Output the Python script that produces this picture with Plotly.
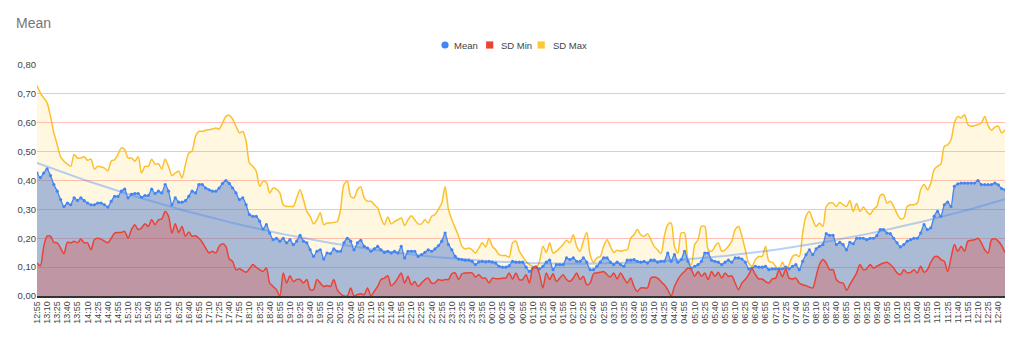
import numpy as np
import plotly.graph_objects as go

# ---- categories: 5-minute timestamps from 12:55 to 12:50 (next day) ----
times = []
h, m = 12, 55
for _ in range(288):
    times.append(f"{h:02d}:{m:02d}")
    m += 5
    if m == 60:
        m = 0
        h = (h + 1) % 24
tick_labels = times[::3]

legend_names = ["Mean", "SD Min", "SD Max"]

mean_vals = [
    0.426, 0.41, 0.426, 0.44, 0.417, 0.386, 0.363, 0.334, 0.31, 0.322,
    0.316, 0.34, 0.331, 0.34, 0.33, 0.322, 0.316, 0.316, 0.322, 0.322,
    0.316, 0.308, 0.328, 0.345, 0.345, 0.363, 0.37, 0.34, 0.352, 0.355,
    0.355, 0.342, 0.348, 0.348, 0.37, 0.355, 0.363, 0.357, 0.386,
    0.363, 0.316, 0.34, 0.325, 0.325, 0.33, 0.345, 0.363, 0.357, 0.386,
    0.386, 0.374, 0.368, 0.363, 0.363, 0.374, 0.39, 0.40, 0.39, 0.374,
    0.357, 0.334, 0.34, 0.316, 0.282, 0.276, 0.276, 0.259, 0.232, 0.247,
    0.218, 0.195, 0.20, 0.19, 0.20,
    0.184, 0.195, 0.178, 0.19, 0.21, 0.19, 0.184, 0.16, 0.137, 0.155,
    0.16, 0.128, 0.149, 0.147, 0.163, 0.155, 0.155, 0.184, 0.20, 0.19,
    0.16, 0.184, 0.193, 0.172, 0.166, 0.155, 0.163, 0.172, 0.16, 0.151,
    0.155, 0.149, 0.155, 0.149, 0.172, 0.132, 0.155, 0.155, 0.155, 0.137,
    0.143, 0.151, 0.16, 0.155, 0.163, 0.174, 0.19, 0.218, 0.178, 0.16,
    0.137, 0.128, 0.126, 0.124, 0.124, 0.12, 0.109, 0.118, 0.12, 0.118,
    0.12, 0.117, 0.114, 0.103, 0.10, 0.10, 0.105, 0.12, 0.117, 0.117,
    0.117, 0.10, 0.085, 0.097, 0.1, 0.094, 0.103, 0.117, 0.124, 0.091,
    0.109, 0.109, 0.109, 0.132, 0.126, 0.132, 0.12, 0.12, 0.132, 0.117,
    0.091, 0.091, 0.103, 0.117, 0.132, 0.132, 0.117, 0.109, 0.117, 0.109,
    0.103, 0.124, 0.124, 0.126, 0.12, 0.117, 0.12, 0.114, 0.124, 0.124,
    0.117, 0.12, 0.12, 0.149, 0.12, 0.143, 0.117, 0.126, 0.155, 0.12,
    0.097, 0.103, 0.109, 0.12, 0.149, 0.149, 0.124, 0.12, 0.117, 0.109,
    0.117, 0.124, 0.117, 0.132, 0.132, 0.128, 0.117, 0.094, 0.097, 0.103,
    0.1, 0.1,
    0.103, 0.091, 0.094, 0.094, 0.094, 0.094, 0.1, 0.094, 0.103, 0.109,
    0.091, 0.12, 0.143, 0.16, 0.143, 0.163, 0.172, 0.178, 0.216, 0.21,
    0.21, 0.178, 0.186, 0.178, 0.16, 0.186, 0.181, 0.2, 0.2, 0.2,
    0.195, 0.2, 0.2, 0.209, 0.23, 0.23, 0.218, 0.216, 0.2, 0.184,
    0.17, 0.178, 0.19, 0.195, 0.2, 0.2, 0.218, 0.247, 0.23, 0.236,
    0.276, 0.293, 0.276, 0.316, 0.325, 0.31, 0.38, 0.388, 0.391, 0.391,
    0.391, 0.391, 0.391, 0.40, 0.386, 0.386, 0.386, 0.386, 0.391, 0.385,
    0.372, 0.368,
]

sd_min_vals = [
    0.114, 0.105, 0.172, 0.207, 0.207, 0.186, 0.184, 0.166, 0.147, 0.186,
    0.184, 0.19, 0.184, 0.197, 0.184, 0.184, 0.16, 0.195, 0.20, 0.197,
    0.19, 0.184, 0.20, 0.218, 0.22, 0.22, 0.224, 0.20, 0.23, 0.247,
    0.23, 0.236, 0.25, 0.241, 0.264, 0.247, 0.264, 0.267, 0.293,
    0.276, 0.218, 0.25, 0.22, 0.241, 0.207, 0.222, 0.207, 0.209, 0.20,
    0.186, 0.166, 0.149, 0.155, 0.149, 0.172, 0.181, 0.172, 0.128, 0.12,
    0.091, 0.094, 0.088, 0.082, 0.094, 0.109, 0.099, 0.091, 0.085, 0.097,
    0.045, 0.033, 0.022, 0.0, 0.08,
    0.045, 0.07, 0.05, 0.057, 0.057, 0.045, 0.057, 0.022, 0.022, 0.057,
    0.045, 0.033, 0.036, 0.033, 0.057, 0.022, 0.008, 0.0, 0.0, 0.028,
    0.0, 0.005, 0.008, 0.004, 0.028, 0.0, 0.016, 0.033, 0.057, 0.062,
    0.07, 0.036, 0.045, 0.062, 0.08, 0.045, 0.068, 0.039, 0.05, 0.033,
    0.045, 0.057, 0.062, 0.045, 0.045, 0.057, 0.054, 0.057, 0.057, 0.077,
    0.08, 0.057, 0.077, 0.08, 0.08, 0.08, 0.066, 0.074, 0.062, 0.062,
    0.045, 0.062, 0.06, 0.06, 0.062, 0.062, 0.08, 0.059, 0.08, 0.057,
    0.057, 0.074, 0.045, 0.097, 0.103, 0.074, 0.028, 0.08, 0.057, 0.077,
    0.05, 0.062, 0.074, 0.057, 0.05, 0.062, 0.08, 0.057, 0.068, 0.039,
    0.045, 0.077, 0.08, 0.082, 0.085, 0.074, 0.066, 0.08, 0.059, 0.08,
    0.062, 0.045, 0.062, 0.033, 0.016, 0.028, 0.028, 0.028, 0.062, 0.066,
    0.062, 0.05, 0.039, 0.022, 0.0, 0.033, 0.057, 0.074, 0.085, 0.097,
    0.091, 0.068, 0.085, 0.068, 0.08, 0.057, 0.085, 0.068, 0.082, 0.062,
    0.08, 0.068, 0.07, 0.045, 0.022, 0.045, 0.057, 0.074, 0.094, 0.074,
    0.059, 0.059,
    0.05, 0.045, 0.059, 0.062, 0.091, 0.066, 0.094, 0.062, 0.059, 0.062,
    0.045, 0.039, 0.036, 0.031, 0.028, 0.068, 0.109, 0.126, 0.114, 0.091,
    0.091, 0.057, 0.047, 0.045, 0.02, 0.039, 0.059, 0.08, 0.109, 0.091,
    0.094, 0.109, 0.097, 0.103, 0.109, 0.114, 0.117, 0.109, 0.097, 0.08,
    0.074, 0.091, 0.08, 0.082, 0.091, 0.08, 0.103, 0.082, 0.091, 0.117,
    0.135, 0.137, 0.126, 0.12, 0.085, 0.132, 0.178, 0.155, 0.172, 0.155,
    0.19, 0.193, 0.195, 0.2, 0.184, 0.16, 0.149, 0.195, 0.198, 0.19,
    0.174, 0.151,
]

sd_max_vals = [
    0.729, 0.703, 0.686, 0.669, 0.622, 0.565, 0.524, 0.482, 0.467, 0.457,
    0.449, 0.49, 0.478, 0.478, 0.482, 0.47, 0.474, 0.44, 0.449, 0.447,
    0.443, 0.434, 0.467, 0.472, 0.49, 0.513, 0.507, 0.478, 0.478, 0.467,
    0.482, 0.426, 0.449, 0.449, 0.474, 0.457, 0.458, 0.44, 0.474,
    0.449, 0.417, 0.426, 0.432, 0.409, 0.455, 0.495, 0.503, 0.553, 0.57,
    0.57, 0.574, 0.576, 0.578, 0.582, 0.578, 0.599, 0.622, 0.626, 0.613,
    0.588, 0.565, 0.57, 0.536, 0.46, 0.449, 0.432, 0.38, 0.397, 0.394,
    0.357, 0.374, 0.37, 0.357, 0.316,
    0.31, 0.31, 0.31, 0.34, 0.368, 0.334, 0.293, 0.276, 0.25, 0.264,
    0.288, 0.247, 0.253, 0.253, 0.255, 0.258, 0.30, 0.386, 0.397, 0.345,
    0.34, 0.368, 0.378, 0.34, 0.328, 0.328, 0.316, 0.305, 0.27, 0.247,
    0.274, 0.25, 0.258, 0.264, 0.27, 0.244, 0.264, 0.278, 0.264, 0.25,
    0.25, 0.264, 0.253, 0.276, 0.282, 0.30, 0.322, 0.378, 0.30, 0.264,
    0.236, 0.207, 0.172, 0.163, 0.166, 0.16, 0.149, 0.166, 0.184, 0.17,
    0.2, 0.172, 0.16, 0.143, 0.14, 0.14, 0.135, 0.184, 0.19, 0.155,
    0.137, 0.12, 0.109, 0.103, 0.097, 0.12, 0.172, 0.151, 0.184, 0.149,
    0.155, 0.166, 0.178, 0.193, 0.184, 0.212, 0.172, 0.155, 0.19, 0.22,
    0.143, 0.117, 0.132, 0.137, 0.172, 0.195, 0.172, 0.151, 0.158, 0.155,
    0.158, 0.16, 0.2, 0.212, 0.23, 0.212, 0.207, 0.216, 0.195, 0.172,
    0.16, 0.147, 0.207, 0.247, 0.253, 0.172, 0.149, 0.218, 0.218, 0.126,
    0.109, 0.178, 0.195, 0.241, 0.241, 0.16, 0.155, 0.172, 0.184, 0.155,
    0.16, 0.172, 0.19, 0.23, 0.241, 0.207, 0.16, 0.114, 0.103, 0.126,
    0.137, 0.137,
    0.172, 0.12, 0.117, 0.103, 0.091, 0.117, 0.094, 0.109, 0.137, 0.143,
    0.137, 0.218, 0.276, 0.293, 0.264, 0.241, 0.253, 0.241, 0.31, 0.322,
    0.322, 0.31, 0.325, 0.316, 0.31, 0.331, 0.293, 0.32, 0.293, 0.308,
    0.293, 0.282, 0.30, 0.31, 0.348, 0.351, 0.322, 0.328, 0.31, 0.285,
    0.267, 0.27, 0.31, 0.316, 0.316, 0.322, 0.368, 0.386, 0.368, 0.391,
    0.438, 0.449, 0.458, 0.518, 0.524, 0.541, 0.599, 0.622, 0.617, 0.628,
    0.594, 0.588, 0.59, 0.594, 0.599, 0.622, 0.59, 0.574, 0.585, 0.588,
    0.565, 0.576,
]

n = min(len(times), len(mean_vals), len(sd_min_vals), len(sd_max_vals))
times = times[:n]
mean_vals = mean_vals[:n]
sd_min_vals = sd_min_vals[:n]
sd_max_vals = sd_max_vals[:n]

# polynomial (degree 2) trendline of the Mean series
idx = np.arange(n)
coef = np.polyfit(idx, np.array(mean_vals), 2)
trend_vals = np.polyval(coef, idx)

BLUE = "#4285F4"
RED = "#EA4335"
YELLOW = "#FBC02D"
FONT = "Liberation Sans, Arial, sans-serif"

W, H = 1022, 338
ML, MR, MT, MB = 37, 17, 65, 42
PW, PH = W - ML - MR, H - MT - MB


def px_to_paper_x(px):
    return (px - ML) / PW


def px_to_paper_y(py):
    return (H - MB - py) / PH


fig = go.Figure()
fig.add_trace(go.Scatter(
    x=times, y=sd_max_vals, mode="lines", name=legend_names[2],
    line=dict(color=YELLOW, width=1.5, shape="spline", smoothing=0.8),
    fill="tozeroy", fillcolor="rgba(251,188,4,0.12)", showlegend=False, hoverinfo="skip"))
fig.add_trace(go.Scatter(
    x=times, y=mean_vals, mode="lines+markers", name=legend_names[0],
    line=dict(color=BLUE, width=1.3, shape="spline", smoothing=0.6),
    marker=dict(color=BLUE, size=3.2),
    fill="tozeroy", fillcolor="rgba(60,110,200,0.43)", showlegend=False, hoverinfo="skip"))
fig.add_trace(go.Scatter(
    x=times, y=trend_vals, mode="lines", line=dict(color="rgba(66,133,244,0.38)", width=2),
    showlegend=False, hoverinfo="skip"))
fig.add_trace(go.Scatter(
    x=times, y=sd_min_vals, mode="lines", name=legend_names[1],
    line=dict(color=RED, width=1.5, shape="spline", smoothing=0.8),
    fill="tozeroy", fillcolor="rgba(234,67,53,0.30)", showlegend=False, hoverinfo="skip"))

# ---- custom legend (symbol + label), laid out like the original ----
legend_items = [
    (legend_names[0], BLUE, "circle", 445.0, 452.0),
    (legend_names[1], RED, "rect", 489.7, 498.5),
    (legend_names[2], "#FCC934", "rect", 541.2, 550.5),
]
leg_y = 45.0
half = 3.6
shapes = []
annotations = []
for name, col, kind, cx, tx in legend_items:
    shapes.append(dict(
        type=kind, xref="paper", yref="paper",
        x0=px_to_paper_x(cx - half), x1=px_to_paper_x(cx + half),
        y0=px_to_paper_y(leg_y + half), y1=px_to_paper_y(leg_y - half),
        fillcolor=col, line=dict(width=0), layer="above"))
    annotations.append(dict(
        text=name, xref="paper", yref="paper", x=px_to_paper_x(tx), y=px_to_paper_y(leg_y),
        xanchor="left", yanchor="middle", showarrow=False,
        font=dict(family=FONT, size=9.5, color="#444444")))

fig.update_layout(
    width=W, height=H,
    margin=dict(l=ML, r=MR, t=MT, b=MB, autoexpand=False),
    paper_bgcolor="white", plot_bgcolor="white",
    separators=",.",
    font=dict(family=FONT, size=9, color="#444444"),
    title=dict(text="Mean", x=16 / W, xref="container", xanchor="left",
               y=1 - 23 / H, yref="container", yanchor="middle",
               font=dict(family=FONT, size=14, color="#757575")),
    showlegend=False,
    shapes=shapes,
    annotations=annotations,
)
fig.update_xaxes(
    type="category", range=[0, n - 1], tickmode="array", tickvals=tick_labels, ticktext=tick_labels,
    tickangle=-90, tickfont=dict(family=FONT, size=9, color="#444444"), ticks="",
    showgrid=False, showline=True, linecolor="#333333", linewidth=1.5, automargin=False,
)
fig.update_yaxes(
    range=[0, 0.8], dtick=0.1, tick0=0, tickformat=".2f",
    gridcolor="rgba(255,0,0,0.25)", gridwidth=1, zeroline=False, showline=False,
    tickfont=dict(family=FONT, size=9.5, color="#444444"), automargin=False,
)

fig.write_html("out.html")
